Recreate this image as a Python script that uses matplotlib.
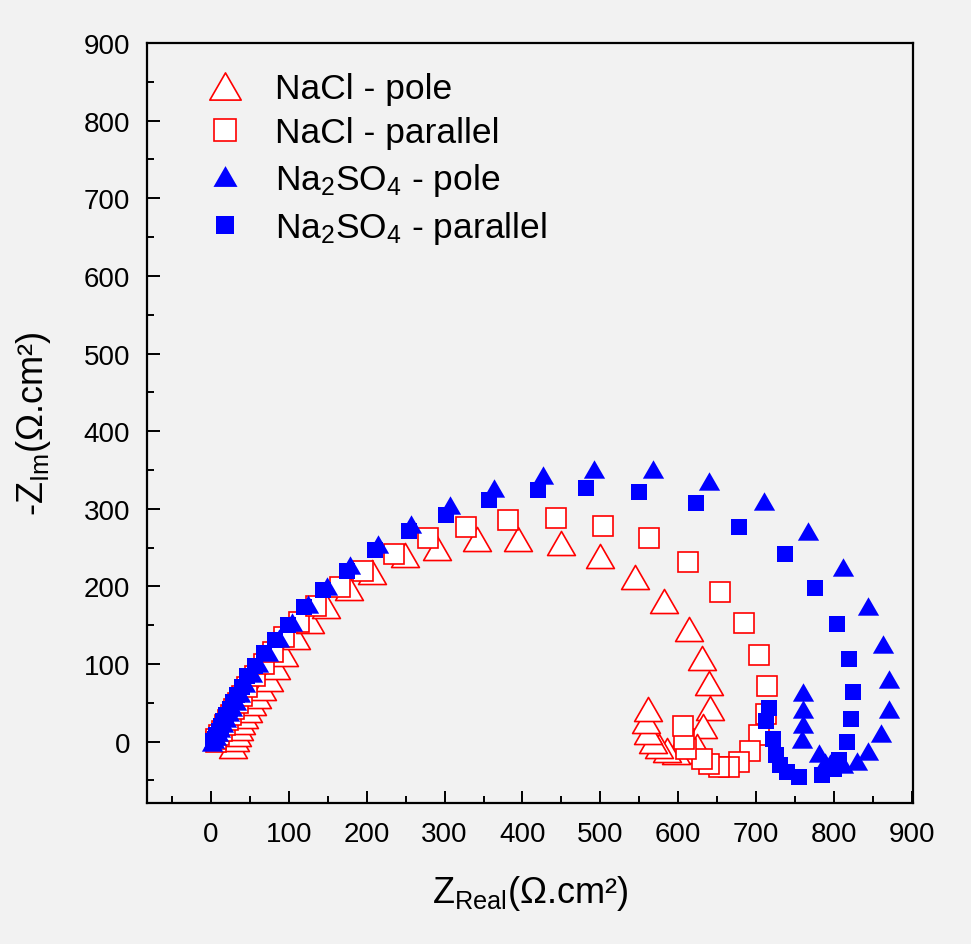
import matplotlib
matplotlib.use("Agg")
from matplotlib import pyplot as plt
from matplotlib.path import Path
from matplotlib.ticker import MultipleLocator

# Nyquist data (Ohm.cm2)
nacl_pole_re = [29, 31, 34, 36, 39, 42, 48, 53, 59, 66, 75, 84, 94, 109, 127, 148, 177, 207, 249, 290,
                341, 394, 449, 500, 545, 582, 614, 631, 639, 641, 632, 624, 609, 597, 585, 575, 568, 561, 558, 561]
nacl_pole_im = [-5, 3, 10, 17, 25, 33, 41, 50, 59, 69, 81, 96, 113, 135, 155, 175, 198, 219, 240, 250,
                261, 261, 256, 239, 212, 181, 145, 108, 75, 43, 20, -5, -12, -13, -11, -6, 1, 12, 26, 42]

nacl_par_re = [6, 7, 10, 14, 18, 22, 26, 30, 35, 40, 47, 57, 68, 80, 94, 113, 135, 166, 195, 235, 279,
               327, 382, 443, 503, 563, 613, 654, 685, 704, 714, 712, 704, 692, 678, 665, 652, 639, 630,
               610, 607, 606]
nacl_par_im = [0, 3, 8, 14, 21, 28, 35, 42, 50, 59, 70, 85, 100, 116, 135, 154, 175, 199, 220, 242, 263,
               277, 286, 288, 278, 262, 231, 193, 153, 112, 72, 36, 9, -12, -26, -33, -33, -29, -22,
               -9, 4, 20]

na2so4_pole_re = [2, 4, 6, 9, 12, 15, 19, 23, 27, 32, 38, 44, 53, 61, 73, 87, 104, 125, 149, 179, 215,
                  257, 307, 363, 426, 492, 568, 639, 710, 766, 812, 844, 863, 871, 870, 860, 843, 830,
                  812, 795, 789, 781, 759, 760, 760, 760]
na2so4_pole_im = [0, 3, 7, 12, 18, 24, 31, 38, 45, 53, 63, 75, 89, 101, 116, 134, 154, 177, 201, 227, 255,
                  281, 305, 327, 344, 351, 351, 336, 310, 271, 225, 175, 126, 81, 42, 11, -12, -25,
                  -29, -28, -26, -14, 4, 23, 42, 64]

na2so4_par_re = [3, 5, 7, 10, 13, 16, 20, 24, 29, 34, 40, 47, 57, 68, 82, 99, 120, 144, 175, 211, 254,
                 302, 357, 420, 482, 550, 623, 678, 737, 776, 804, 819, 824, 822, 816, 806, 800, 784,
                 755, 740, 731, 725, 721, 713, 717]
na2so4_par_im = [1, 4, 8, 14, 20, 27, 34, 42, 51, 60, 71, 84, 97, 114, 131, 150, 173, 195, 220, 247, 272,
                 292, 311, 324, 327, 321, 308, 277, 242, 198, 151, 106, 64, 29, 0, -23, -35, -43,
                 -46, -39, -30, -17, 4, 26, 43]

plt.rcParams['font.family'] = ['Liberation Sans', 'DejaVu Sans']
plt.rcParams['mathtext.default'] = 'regular'

bg = '#f2f2f2'
tri = Path([(-1, -0.866), (1, -0.866), (0, 0.866), (-1, -0.866)], closed=True)

fig = plt.figure(figsize=(9.71, 9.45), dpi=100, facecolor=bg)
ax = fig.add_axes([0.1514, 0.1492, 0.7886, 0.8042], facecolor=bg)

ax.plot(nacl_pole_re, nacl_pole_im, ls='none', marker=tri, ms=20, mfc='white', mec='#ff0000', mew=1.2,
        label='NaCl - pole')
ax.plot(nacl_par_re, nacl_par_im, ls='none', marker='s', ms=14.5, mfc='white', mec='#ff0000', mew=1.2,
        label='NaCl - parallel')
ax.plot(na2so4_pole_re, na2so4_pole_im, ls='none', marker=tri, ms=15.3, mfc='#0000ff', mec='#0000ff', mew=0,
        label='Na$_2$SO$_4$ - pole')
ax.plot(na2so4_par_re, na2so4_par_im, ls='none', marker='s', ms=11.5, mfc='#0000ff', mec='#0000ff', mew=0,
        label='Na$_2$SO$_4$ - parallel')

ax.set_xlim(-82, 901)
ax.set_ylim(-79, 900)
ax.set_xticks(range(0, 901, 100))
ax.set_yticks(range(0, 901, 100))
ax.xaxis.set_minor_locator(MultipleLocator(50))
ax.yaxis.set_minor_locator(MultipleLocator(50))
ax.tick_params(which='both', direction='in', width=1.4, labelsize=20)
ax.tick_params(which='major', length=9)
ax.tick_params(which='minor', length=5)
ax.tick_params(axis='x', pad=13)
ax.tick_params(axis='y', pad=12)
for s in ax.spines.values():
    s.set_linewidth(1.6)

ax.set_xlabel('Z$_{Real}$(Ω.cm²)', fontsize=26, labelpad=19)
ax.set_ylabel('-Z$_{Im}$(Ω.cm²)', fontsize=26, labelpad=22)

ax.legend(loc='upper left', bbox_to_anchor=(0.055, 0.985), frameon=False, fontsize=25.5,
          borderpad=0, handlelength=1.0, handletextpad=0.93, labelspacing=0.32, markerscale=1.13)

plt.savefig('out.png', dpi=100, facecolor=bg)
